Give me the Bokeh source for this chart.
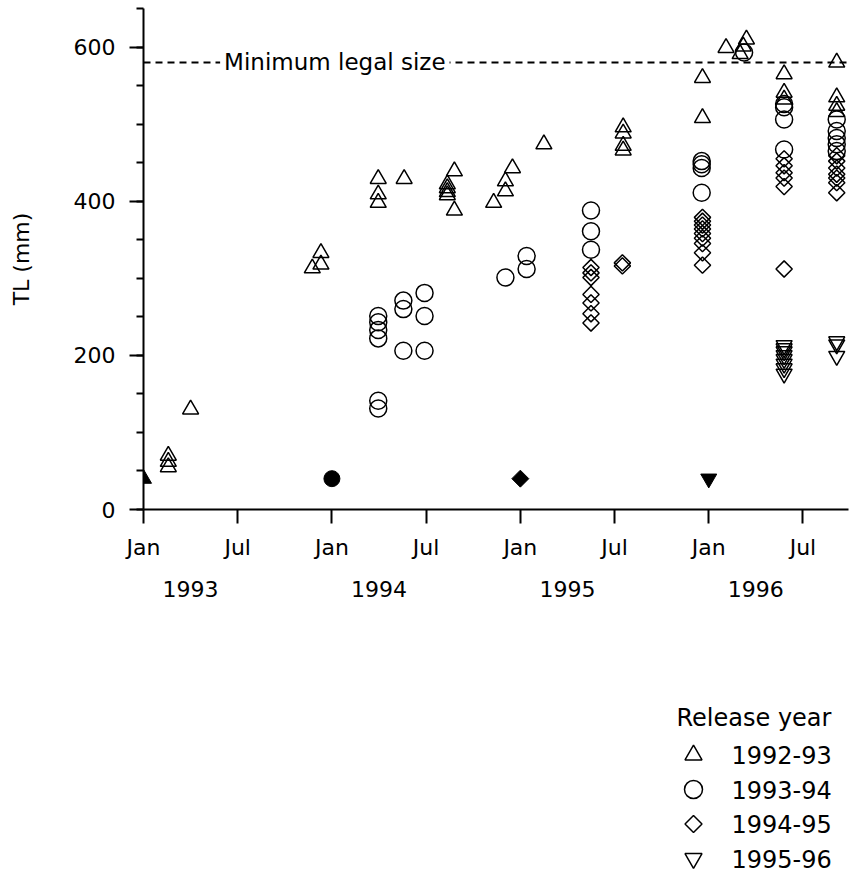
import math
from bokeh.plotting import figure
from bokeh.layouts import column
from bokeh.core.properties import value
from bokeh.models import Range1d, FixedTicker, LinearAxis, Label
from bokeh.embed import file_html
from bokeh.resources import INLINE

FONT = "DejaVu Sans"

# x = months since January 1993, y = total length (mm)
TRI_X = [1.58, 1.58, 1.58, 3.0, 10.75, 11.3, 11.3, 14.95, 14.95, 14.95, 16.6,
         19.35, 19.35, 19.35, 19.35, 19.8, 19.8, 22.3, 23.05, 23.05, 23.5, 25.5,
         30.55, 30.55, 30.55, 30.55, 35.6, 35.6, 37.1, 38.4, 38.2, 38.0,
         40.8, 40.8, 40.8, 44.15, 44.15, 44.15, 44.15]
TRI_Y = [70, 62, 55, 130, 313, 318, 333, 429, 409, 398, 429,
         422, 417, 412, 408, 439, 388, 398, 426, 413, 443, 474,
         496, 488, 472, 466, 560, 508, 599, 610, 601, 591,
         565, 541, 532, 580, 535, 524, 516]

CIR_X = [14.95, 14.95, 14.95, 14.95, 14.95, 14.95, 16.55, 16.55, 16.55,
         17.9, 17.9, 17.9, 23.05, 24.4, 24.4, 28.5, 28.5, 28.5,
         35.55, 35.55, 35.55, 35.55, 38.25, 40.8, 40.8, 40.8, 40.8,
         44.15, 44.15, 44.15, 44.15, 44.15]
CIR_Y = [251, 243, 233, 222, 141, 131, 271, 260, 206,
         281, 251, 206, 301, 329, 312, 388, 361, 337,
         452, 448, 443, 411, 593, 526, 522, 506, 467,
         506, 491, 482, 474, 465]

DIA_X = [28.5, 28.5, 28.5, 28.5, 28.5, 28.5, 28.5, 30.5, 30.5,
         35.6, 35.6, 35.6, 35.6, 35.6, 35.6, 35.6, 35.6, 35.6,
         40.8, 40.8, 40.8, 40.8, 40.8, 40.8,
         44.15, 44.15, 44.15, 44.15, 44.15, 44.15, 44.15]
DIA_Y = [314, 307, 301, 279, 268, 254, 242, 320, 316,
         379, 374, 369, 364, 358, 352, 345, 333, 317,
         455, 446, 437, 430, 419, 312,
         459, 452, 443, 435, 430, 424, 411]

INV_X = [40.8, 40.8, 40.8, 40.8, 40.8, 40.8, 40.8, 40.8, 44.15, 44.15, 44.15]
INV_Y = [213, 209, 205, 200, 195, 189, 183, 176, 218, 214, 199]

# release events (filled symbols)
REL_X = [0, 12, 24, 36]
REL_Y = [40, 40, 40, 40]

LEGAL_SIZE = 580
SERIES_NAMES = ["1992-93", "1993-94", "1994-95", "1995-96"]
LEGEND_TITLE = "Release year"
MONTH_TICKS = [0, 6, 12, 18, 24, 30, 36, 42]
MONTH_LABELS = ["Jan", "Jul", "Jan", "Jul", "Jan", "Jul", "Jan", "Jul"]
YEAR_LABELS = ["1993", "1994", "1995", "1996"]
Y_TICKS = [0, 200, 400, 600]

X_MIN, X_MAX = 0, 44.9
Y_MIN, Y_MAX = 0, 650

MARKERS = ["triangle", "circle", "square", "inverted_triangle"]
ANGLES = [0, 0, math.pi / 4, 0]
SIZES = [16, 17, 11.5, 16]

PAGE_W = 856
FRAME_LEFT, FRAME_RIGHT_BORDER = 143, 8
MAIN_H, LEG_H = 619, 253

p = figure(width=PAGE_W, height=MAIN_H, output_backend="svg", toolbar_location=None,
           x_range=Range1d(X_MIN, X_MAX), y_range=Range1d(Y_MIN, Y_MAX),
           min_border_left=FRAME_LEFT, min_border_right=FRAME_RIGHT_BORDER,
           min_border_top=8, min_border_bottom=110)
p.grid.visible = False
p.outline_line_color = None
p.background_fill_color = "white"
p.border_fill_color = "white"

# legal size line + label
p.segment(x0=[X_MIN], y0=[LEGAL_SIZE], x1=[X_MAX], y1=[LEGAL_SIZE],
          line_color="black", line_width=2, line_dash="7 5")

common = dict(fill_color=None, line_color="black", line_width=1.5)
series = [(TRI_X, TRI_Y), (CIR_X, CIR_Y), (DIA_X, DIA_Y), (INV_X, INV_Y)]
for (xs, ys), m, a, s in zip(series, MARKERS, ANGLES, SIZES):
    p.scatter(xs, ys, marker=m, angle=a, size=s, **common)

p.scatter(REL_X, REL_Y, marker=MARKERS, angle=ANGLES,
          size=[16, 16, 12, 16], fill_color="black", line_color="black")

p.add_layout(Label(x=4.88, y=LEGAL_SIZE, text="Minimum legal size",
                   text_baseline="middle", text_font=FONT, text_font_size="23px",
                   text_color="black", background_fill_color="white", padding=4))

def style_axis(ax):
    ax.axis_line_color = "black"
    ax.axis_line_width = 2
    ax.major_tick_line_color = "black"
    ax.major_tick_line_width = 2
    ax.minor_tick_line_color = "black"
    ax.minor_tick_line_width = 2
    ax.major_label_text_font = FONT
    ax.major_label_text_font_size = "22px"
    ax.major_label_text_color = "black"
    ax.axis_label_text_font = FONT
    ax.axis_label_text_font_size = "22px"
    ax.axis_label_text_font_style = "normal"
    ax.axis_label_text_color = "black"

yax = p.yaxis[0]
style_axis(yax)
yax.ticker = FixedTicker(ticks=Y_TICKS, minor_ticks=list(range(Y_MIN, Y_MAX + 1, 50)))
yax.major_tick_out = 14
yax.major_tick_in = 0
yax.minor_tick_out = 7
yax.minor_tick_in = 0
yax.major_label_standoff = 14
yax.axis_label = "TL (mm)"
yax.axis_label_standoff = 37

xax = p.xaxis[0]
style_axis(xax)
xax.ticker = FixedTicker(ticks=MONTH_TICKS, minor_ticks=[])
xax.major_label_overrides = {t: l for t, l in zip(MONTH_TICKS, MONTH_LABELS)}
xax.major_tick_out = 14
xax.major_tick_in = 0
xax.major_label_standoff = 11

YEAR_POS = [12 * i + 3 for i in range(len(YEAR_LABELS))]
yr = LinearAxis(ticker=FixedTicker(ticks=YEAR_POS, minor_ticks=[]))
style_axis(yr)
yr.major_label_overrides = {t: l for t, l in zip(YEAR_POS, YEAR_LABELS)}
yr.axis_line_color = None
yr.major_tick_out = 0
yr.major_tick_in = 0
yr.minor_tick_out = 0
yr.minor_tick_in = 0
yr.major_label_standoff = 18
p.add_layout(yr, "below")

# ---- legend panel: its own figure whose ranges are in page pixels ----
lg = figure(width=PAGE_W, height=LEG_H, output_backend="svg", toolbar_location=None,
            x_range=Range1d(FRAME_LEFT, PAGE_W - FRAME_RIGHT_BORDER),
            y_range=Range1d(MAIN_H + LEG_H, MAIN_H),   # downward, page pixels
            x_axis_location=None, y_axis_location=None,
            min_border_left=FRAME_LEFT, min_border_right=FRAME_RIGHT_BORDER,
            min_border_top=0, min_border_bottom=0)
lg.grid.visible = False
lg.outline_line_color = None
lg.background_fill_color = "white"
lg.border_fill_color = "white"

LEG_LEFT = 676          # title left edge
LEG_TITLE_BASELINE = 717
LEG_FIRST = 754.5       # centre of first entry
LEG_STEP = 34.5
LEG_MARK_X = 693
LEG_TEXT_X = 731
LEG_MARK_SIZES = [17, 18, 12, 17]
entry_y = [LEG_FIRST + i * LEG_STEP for i in range(len(SERIES_NAMES))]

lg.text(x=[LEG_LEFT], y=[LEG_TITLE_BASELINE], text=[LEGEND_TITLE],
        text_font=value(FONT), text_font_size="24px", text_color="black",
        text_align="left", text_baseline="alphabetic")
lg.scatter(x=[LEG_MARK_X] * len(SERIES_NAMES), y=entry_y, marker=MARKERS,
           angle=ANGLES, size=LEG_MARK_SIZES, **common)
lg.text(x=[LEG_TEXT_X] * len(SERIES_NAMES), y=entry_y, text=SERIES_NAMES,
        text_font=value(FONT), text_font_size="24px", text_color="black",
        text_align="left", text_baseline="middle")

layout = column(p, lg, spacing=0)
open("out.html", "w").write(file_html(layout, INLINE))
